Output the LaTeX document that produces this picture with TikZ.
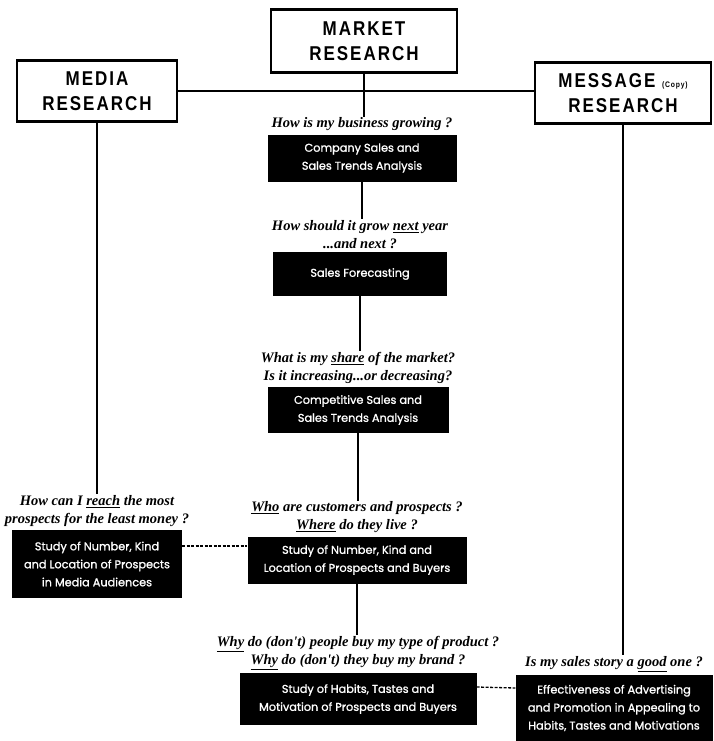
\documentclass[tikz,border=0pt]{standalone}
\usepackage{fontspec}
\usetikzlibrary{positioning}
\newfontfamily\headfont[LetterSpace=10,FakeStretch=0.85]{Liberation Sans}
\newfontfamily\boxfont[FakeBold=1.2]{Poppins}
\newfontfamily\askfont{Liberation Serif}

\begin{document}
\begin{tikzpicture}[x=1pt,y=-1pt,node distance=2pt,
  headbox/.style={draw,line width=2.2pt,align=center,inner sep=2pt,
    font=\headfont\bfseries\fontsize{20}{25}\selectfont},
  darkbox/.style={fill=black,text=white,align=center,inner sep=2pt,
    font=\boxfont\fontsize{11.3}{18}\selectfont},
  ask/.style={align=center,inner sep=1pt,
    font=\askfont\bfseries\itshape\fontsize{14.5}{18}\selectfont},
  link/.style={line width=2pt},
  dashlink/.style={line width=1.3pt,dash pattern=on 3pt off 1.5pt}]
	\useasboundingbox (0,0) rectangle (713,741);
	% the three research headings
	\node[headbox,minimum width=186pt,minimum height=63pt] (market)  at (364,41) {MARKET\\RESEARCH};
	\node[headbox,minimum width=160pt,minimum height=61pt] (media)   at (97,91)  {MEDIA\\RESEARCH};
	\node[headbox,minimum width=176pt,minimum height=61pt] (message) at (623,93)
	  {MESSAGE {\fontsize{8}{8}\selectfont(Copy)}\\RESEARCH};
	% market column
	\node[darkbox,minimum width=189pt,minimum height=47pt] (company)  at (362,158) {Company Sales and\\Sales Trends Analysis};
	\node[darkbox,minimum width=174pt,minimum height=44pt] (forecast) at (360,274) {Sales Forecasting};
	\node[darkbox,minimum width=181pt,minimum height=46pt] (compete)  at (358,410) {Competitive Sales and\\Sales Trends Analysis};
	\node[darkbox,minimum width=219pt,minimum height=47pt] (buyers)   at (357,560) {Study of Number, Kind and\\Location of Prospects and Buyers};
	\node[darkbox,minimum width=237pt,minimum height=52pt] (habits)   at (358,699) {Study of Habits, Tastes and\\Motivation of Prospects and Buyers};
	% media and message columns
	\node[darkbox,minimum width=170pt,minimum height=68pt] (audience) at (97,564)  {Study of Number, Kind\\and Location of Prospects\\in Media Audiences};
	\node[darkbox,minimum width=197pt,minimum height=66pt] (effect)   at (614,708) {Effectiveness of Advertising\\and Promotion in Appealing to\\Habits, Tastes and Motivations};
	% questions
	\node[ask] (qgrow)     [above=of company]  {How is my business growing ?};
	\node[ask] (qnext)     [above=of forecast] {How should it grow \underline{next} year\\...and next ?};
	\node[ask] (qshare)    [above=of compete]  {What is my \underline{share} of the market?\\Is it increasing...or decreasing?};
	\node[ask] (qwho)      [above=of buyers]   {\underline{Who} are customers and prospects ?\\\underline{Where} do they live ?};
	\node[ask] (qwhy)      [above=of habits]   {\underline{Why} do (don't) people buy my type of product ?\\\underline{Why} do (don't) they buy my brand ?};
	\node[ask] (qreach)    [above=of audience] {How can I \underline{reach} the most\\prospects for the least money ?};
	\node[ask] (qstory)    [above=of effect]   {Is my sales story a \underline{good} one ?};
	% connectors
	\draw[link] (media.east) -- (media.east -| message.west);
	\draw[link] (market.south) -- (market.south |- qgrow.north);
	\draw[link] (company.south) -- (company.south |- qnext.north);
	\draw[link] (forecast.south) -- (forecast.south |- qshare.north);
	\draw[link] (compete.south) -- (compete.south |- qwho.north);
	\draw[link] (buyers.south) -- (buyers.south |- qwhy.north);
	\draw[link] (media.south) -- (media.south |- qreach.north);
	\draw[link] (message.south) -- (message.south |- qstory.north);
	\draw[dashlink] ([yshift=18pt]audience.east) -- ([yshift=14pt]buyers.west);
	\draw[dashlink] ([yshift=12pt]habits.east) -- ([yshift=20pt]effect.west);
\end{tikzpicture}
\end{document}
